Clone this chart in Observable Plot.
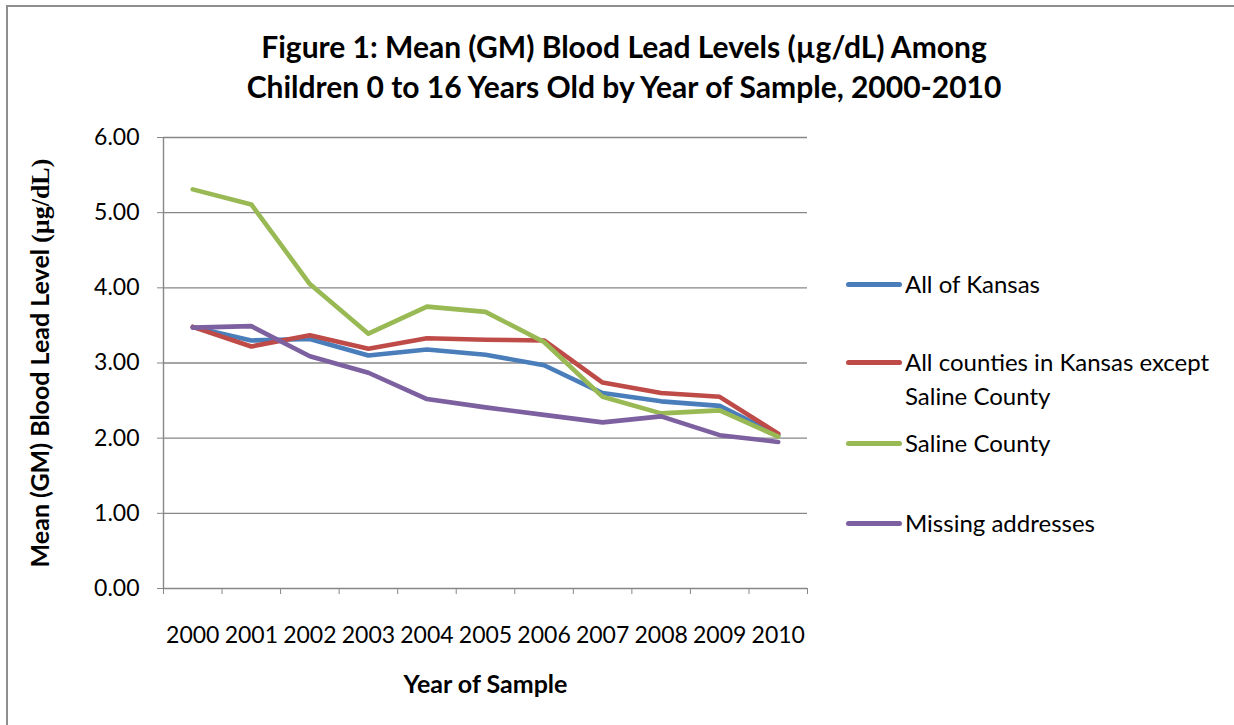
<!DOCTYPE html>
<html>
<head>
<meta charset="utf-8">
<script src="https://cdn.jsdelivr.net/npm/d3@7"></script>
<script src="https://cdn.jsdelivr.net/npm/@observablehq/plot@0.6"></script>
<style>
  html, body { margin: 0; padding: 0; background: #fff; }
  #wrap { position: relative; width: 1234px; height: 725px; overflow: hidden; font-family: Lato, "Open Sans", sans-serif; }
  #border { position: absolute; left: 6px; top: 5px; width: 1240px; height: 760px; border: 2px solid #8e8e8e; box-sizing: border-box; }
  #title { position: absolute; left: 0; top: 26px; width: 1248px; text-align: center; font-weight: 700; font-size: 30px; line-height: 40px; color: #000; }
  #chart { position: absolute; left: 0; top: 110px; }
  #legend { position: absolute; left: 846px; top: 0; }
  .item { position: absolute; left: 0; width: 400px; font-size: 24px; line-height: 34px; color: #000; }
  .sw { position: absolute; left: 0; width: 56px; height: 5px; border-radius: 3px; }
  .lab { position: absolute; left: 59px; white-space: nowrap; }
</style>
</head>
<body>
<div id="wrap">
  <div id="border"></div>
  <div id="title">Figure 1: Mean (GM) Blood Lead Levels (µg/dL) Among<br>Children 0 to 16 Years Old by Year of Sample, 2000-2010</div>
  <div id="chart"></div>
  <div id="legend"></div>
</div>
<script>
const years = [2000, 2001, 2002, 2003, 2004, 2005, 2006, 2007, 2008, 2009, 2010];
const allKansas    = [3.48, 3.30, 3.32, 3.10, 3.18, 3.11, 2.97, 2.60, 2.49, 2.43, 2.04];
const exceptSaline = [3.48, 3.22, 3.37, 3.19, 3.33, 3.31, 3.30, 2.74, 2.60, 2.55, 2.06];
const saline       = [5.31, 5.11, 4.05, 3.39, 3.75, 3.68, 3.28, 2.55, 2.33, 2.37, 2.02];
const missing      = [3.47, 3.49, 3.09, 2.87, 2.52, 2.41, 2.31, 2.21, 2.29, 2.04, 1.95];
const seriesNames  = ["All of Kansas", "All counties in Kansas except Saline County", "Saline County", "Missing addresses"];
const seriesColors = ["#4a7ebb", "#be4b48", "#98b954", "#7d60a0"];
const yTicks = [0, 1, 2, 3, 4, 5, 6];

const seriesValues = [allKansas, exceptSaline, saline, missing];
const rows = seriesValues.flatMap((vals, i) => years.map((yr, j) => ({year: yr, value: vals[j], series: seriesNames[i]})));
const boundaries = [...years.map(y => y - 0.5), years[years.length - 1] + 0.5];

const gray = "#878787";
const yTitle = "Mean (GM) Blood Lead Level (µg/dL)";
const plot = Plot.plot({
  width: 1234,
  height: 615,
  marginTop: 27,
  marginBottom: 137,
  marginLeft: 163,
  marginRight: 427,
  style: {fontFamily: "Lato, 'Open Sans', sans-serif", fontSize: "23px", color: "#000", background: "transparent", overflow: "visible"},
  x: {type: "linear", domain: [boundaries[0], boundaries[boundaries.length - 1]]},
  y: {domain: [0, 6]},
  color: {domain: seriesNames, range: seriesColors},
  marks: [
    Plot.gridY({ticks: yTicks, stroke: gray, strokeOpacity: 1, strokeWidth: 1.4}),
    Plot.ruleX([boundaries[0]], {stroke: gray, strokeWidth: 1.4}),
    Plot.axisY({ticks: yTicks, tickFormat: d => d.toFixed(2), tickSize: 6, tickPadding: 18, stroke: gray, fill: "#000", label: null, fontSize: 23}),
    Plot.axisX({ticks: boundaries, tickSize: 6, tickFormat: () => "", stroke: gray, label: null}),
    Plot.axisX({ticks: years, tickSize: 0, tickPadding: 38, tickFormat: d => String(d), fill: "#000", label: null, fontSize: 23}),
    Plot.line(rows, {x: "year", y: "value", z: "series", stroke: "series", strokeWidth: 4.6, strokeLinejoin: "round", strokeLinecap: "round"}),
    Plot.text(["Year of Sample"], {frameAnchor: "bottom", dy: 96, textAnchor: "middle", lineAnchor: "middle", fontWeight: "bold", fontSize: 25, fill: "#000"}),
    Plot.text([yTitle], {frameAnchor: "left", dx: -123, rotate: -90, textAnchor: "middle", lineAnchor: "middle", fontWeight: "bold", fontSize: 25, fill: "#000"})
  ]
});
document.getElementById("chart").appendChild(plot);

// Serif unit in the y-axis title
d3.select(plot).selectAll("text").each(function() {
  if (this.textContent === yTitle) {
    const t = d3.select(this);
    t.text("Mean (GM) Blood Lead Level ");
    t.append("tspan").attr("font-family", "'Liberation Serif', serif").attr("font-size", 26).text("(µg/dL)");
  }
});

// Legend
const legendRows = [
  {top: 284, lines: ["All of Kansas"]},
  {top: 362, lines: ["All counties in Kansas except", "Saline County"]},
  {top: 443, lines: ["Saline County"]},
  {top: 523, lines: ["Missing addresses"]}
];
const legend = d3.select("#legend");
seriesNames.forEach((name, i) => {
  const r = legendRows[i];
  const item = legend.append("div").attr("class", "item").style("top", (r.top - 17) + "px");
  item.append("div").attr("class", "sw").style("top", "15px").style("background", seriesColors[i]);
  const lab = item.append("div").attr("class", "lab");
  lab.html(r.lines.join("<br>"));
});
</script>
</body>
</html>
